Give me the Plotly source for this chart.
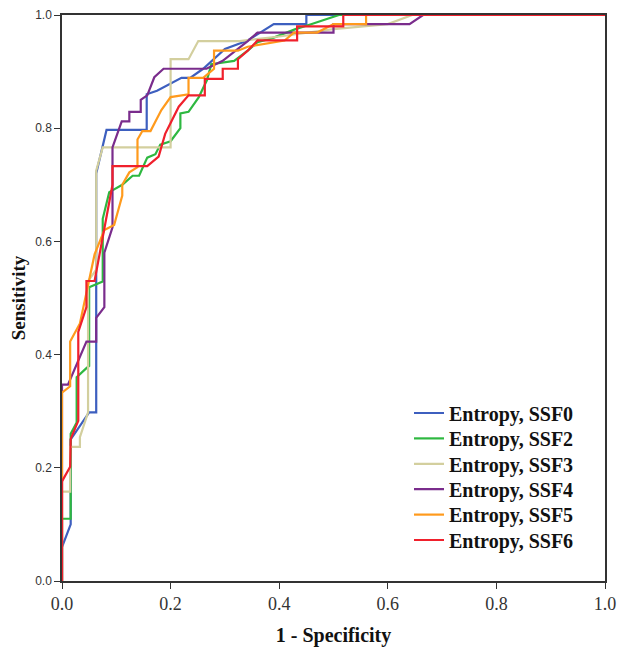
import plotly.graph_objects as go

names = ["Entropy, SSF0", "Entropy, SSF2", "Entropy, SSF3", "Entropy, SSF4", "Entropy, SSF5", "Entropy, SSF6"]
colors = ["#3d5fbf", "#2eb840", "#d3cf9e", "#7a2c8c", "#ff9a1c", "#f0202c"]

ssf0_x = [0, 0, 0.016, 0.016, 0.05, 0.063, 0.063, 0.075, 0.082, 0.156, 0.156, 0.175, 0.22, 0.236, 0.26, 0.30, 0.342, 0.39, 0.45, 0.45, 1]
ssf0_y = [0, 0.06, 0.10, 0.25, 0.298, 0.298, 0.72, 0.766, 0.797, 0.797, 0.86, 0.866, 0.889, 0.889, 0.905, 0.94, 0.955, 0.984, 0.984, 1.0, 1.0]

ssf2_x = [0, 0, 0.016, 0.016, 0.027, 0.027, 0.045, 0.05, 0.05, 0.075, 0.075, 0.087, 0.111, 0.13, 0.142, 0.157, 0.172, 0.181, 0.2, 0.218, 0.218, 0.233, 0.252, 0.267, 0.275, 0.317, 0.342, 0.36, 0.39, 0.43, 0.46, 0.51, 1]
ssf2_y = [0, 0.11, 0.11, 0.26, 0.28, 0.36, 0.376, 0.38, 0.519, 0.529, 0.64, 0.687, 0.70, 0.716, 0.716, 0.748, 0.754, 0.771, 0.777, 0.80, 0.826, 0.829, 0.855, 0.885, 0.913, 0.919, 0.937, 0.952, 0.96, 0.975, 0.984, 1.0, 1.0]

ssf3_x = [0, 0, 0.015, 0.015, 0.033, 0.033, 0.048, 0.048, 0.063, 0.063, 0.075, 0.2, 0.2, 0.233, 0.251, 0.327, 0.4, 0.5, 0.6, 0.645, 1]
ssf3_y = [0, 0.158, 0.158, 0.237, 0.237, 0.254, 0.298, 0.53, 0.55, 0.725, 0.766, 0.766, 0.922, 0.922, 0.954, 0.954, 0.962, 0.975, 0.984, 1.0, 1.0]

ssf4_x = [0, 0, 0.011, 0.033, 0.045, 0.063, 0.063, 0.078, 0.078, 0.093, 0.093, 0.11, 0.124, 0.124, 0.145, 0.145, 0.157, 0.17, 0.187, 0.266, 0.296, 0.342, 0.36, 0.5, 0.5, 0.64, 0.665, 1]
ssf4_y = [0, 0.347, 0.347, 0.397, 0.423, 0.423, 0.465, 0.484, 0.58, 0.625, 0.766, 0.812, 0.812, 0.829, 0.829, 0.85, 0.858, 0.89, 0.905, 0.905, 0.919, 0.954, 0.969, 0.969, 0.984, 0.984, 1.0, 1.0]

ssf5_x = [0, 0, 0.015, 0.015, 0.033, 0.06, 0.078, 0.096, 0.111, 0.111, 0.124, 0.139, 0.139, 0.148, 0.163, 0.172, 0.183, 0.2, 0.233, 0.233, 0.26, 0.28, 0.28, 0.324, 0.342, 0.41, 0.427, 0.47, 0.5, 0.56, 0.56, 1]
ssf5_y = [0, 0.333, 0.344, 0.423, 0.455, 0.577, 0.62, 0.629, 0.681, 0.70, 0.722, 0.731, 0.78, 0.795, 0.795, 0.812, 0.832, 0.855, 0.86, 0.889, 0.889, 0.905, 0.937, 0.937, 0.944, 0.955, 0.969, 0.969, 0.984, 0.984, 1.0, 1.0]

ssf6_x = [0, 0, 0.015, 0.016, 0.03, 0.03, 0.045, 0.045, 0.06, 0.078, 0.093, 0.093, 0.157, 0.178, 0.19, 0.2, 0.215, 0.233, 0.263, 0.263, 0.296, 0.296, 0.324, 0.324, 0.342, 0.36, 0.433, 0.433, 0.518, 0.518, 1]
ssf6_y = [0, 0.176, 0.202, 0.251, 0.283, 0.44, 0.484, 0.53, 0.53, 0.62, 0.70, 0.733, 0.733, 0.75, 0.79, 0.809, 0.838, 0.858, 0.858, 0.887, 0.887, 0.905, 0.905, 0.922, 0.937, 0.955, 0.955, 0.98, 0.98, 1.0, 1.0]

x_ticks = [0.0, 0.2, 0.4, 0.6, 0.8, 1.0]
y_ticks = [0.0, 0.2, 0.4, 0.6, 0.8, 1.0]

series_x = [ssf0_x, ssf2_x, ssf3_x, ssf4_x, ssf5_x, ssf6_x]
series_y = [ssf0_y, ssf2_y, ssf3_y, ssf4_y, ssf5_y, ssf6_y]

serif = "Liberation Serif, Times New Roman, serif"

# figure geometry (page has an 8px body margin)
W, H = 617, 639
L, R, T, B = 54, 20, 7, 66
plot_h = H - T - B
plot_w = W - L - R

fig = go.Figure()
legend_layouts = {}
for i, (nm, c, xs, ys) in enumerate(zip(names, colors, series_x, series_y)):
    lg = "legend" if i == 0 else f"legend{i + 1}"
    fig.add_trace(go.Scatter(x=xs, y=ys, mode="lines", name=f"<b>{nm}</b>",
                             line=dict(color=c, width=2.2), legend=lg))
    row_center = 405 + 25.4 * i
    legend_layouts[lg] = dict(x=(401 - L) / plot_w, y=(H - B - row_center) / plot_h,
                              xanchor="left", yanchor="middle",
                              bgcolor="rgba(0,0,0,0)",
                              font=dict(family=serif, size=20, color="#111"),
                              itemwidth=30)

fig.update_layout(
    width=W, height=H,
    margin=dict(l=L, r=R, t=T, b=B, autoexpand=False),
    paper_bgcolor="white", plot_bgcolor="white",
    showlegend=True,
    xaxis=dict(range=[0, 1], tickvals=x_ticks, ticktext=[f"{v:.1f}" for v in x_ticks],
               automargin=False, ticklabeloverflow="allow",
               showgrid=False, zeroline=False, showline=True, linecolor="#333", linewidth=1.5,
               mirror=True, ticks="outside", ticklen=6, tickcolor="#333",
               tickfont=dict(family=serif, size=18, color="#333"),
               title=dict(text="<b>1 - Specificity</b>", font=dict(family=serif, size=20, color="#111"), standoff=22)),
    yaxis=dict(range=[0, 1], tickvals=y_ticks, ticktext=[f"{v:.1f}" for v in y_ticks],
               automargin=False, ticklabeloverflow="allow",
               showgrid=False, zeroline=False, showline=True, linecolor="#333", linewidth=1.5,
               mirror=True, ticks="outside", ticklen=6, tickcolor="#333",
               tickfont=dict(family="Liberation Sans, Arial, sans-serif", size=12, color="#333"),
               title=dict(text="<b>Sensitivity</b>", font=dict(family=serif, size=19, color="#111"), standoff=25)),
)
fig.update_layout(**legend_layouts)

fig.write_html("out.html")
